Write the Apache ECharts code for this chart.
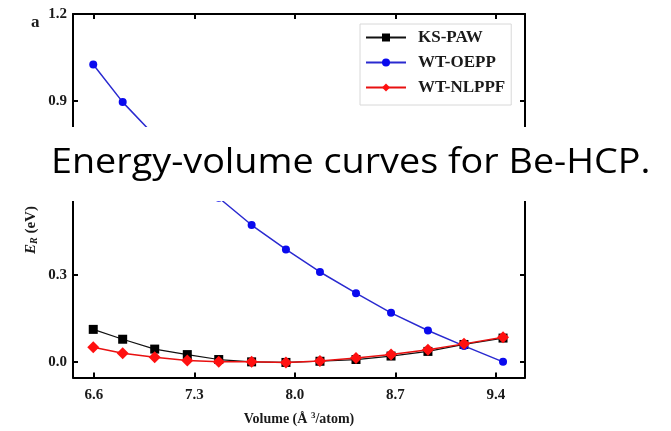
<!DOCTYPE html>
<html>
<head>
<meta charset="utf-8">
<script src="https://cdn.jsdelivr.net/npm/echarts@6/dist/echarts.min.js"></script>
<style>
  html, body { margin: 0; padding: 0; background: #fff; }
  #chart { width: 671px; height: 431px; }
</style>
</head>
<body>
<div id="chart"></div>
<script>
// Atomic volumes (Å^3/atom) of the sampled Be-HCP structures
const volumes = [6.595, 6.80, 7.023, 7.25, 7.469, 7.698, 7.937, 8.174, 8.425, 8.669, 8.926, 9.177, 9.449];

// Relative energies E_R (eV) for each method
const ksPaw   = [0.112, 0.078, 0.044, 0.025, 0.008, 0.000, -0.002, 0.002, 0.008, 0.020, 0.036, 0.060, 0.082];
const wtOepp  = [1.026, 0.896, 0.780, 0.668, 0.566, 0.472, 0.388, 0.310, 0.237, 0.169, 0.108, 0.055, 0.000];
const wtNlppf = [0.050, 0.030, 0.016, 0.005, 0.000, 0.000, -0.002, 0.003, 0.013, 0.025, 0.042, 0.062, 0.085];

const seriesNames = ['KS-PAW', 'WT-OEPP', 'WT-NLPPF'];

// Tick positions
const xTicks = [6.6, 7.3, 8.0, 8.7, 9.4];
const yTicks = [0.0, 0.3, 0.6, 0.9, 1.2];
const yTickLabels = [0.0, 0.3, 0.9, 1.2];

const xRange = [6.454, 9.602];
const yRange = [-0.054, 1.2];

const serif = '"Liberation Serif", "DejaVu Serif", serif';

function pairs(ys) {
  return volumes.map((v, i) => [v, ys[i]]);
}

const chart = echarts.init(document.getElementById('chart'), null, { renderer: 'canvas' });

const frameLine = { show: true, onZero: false, lineStyle: { color: '#000', width: 2 } };
const tickIn = (vals) => ({ show: true, inside: true, length: 5, customValues: vals, lineStyle: { color: '#000', width: 2 } });

chart.setOption({
  animation: false,
  backgroundColor: '#fff',
  grid: { left: 73, right: 146, top: 14, bottom: 46, containLabel: false },
  legend: {
    orient: 'vertical',
    left: 360,
    top: 24,
    padding: [5, 6, 9, 5],
    itemWidth: 40,
    itemHeight: 10,
    itemGap: 8,
    borderColor: '#d8d8d8',
    borderWidth: 1,
    textStyle: { fontFamily: serif, fontWeight: 'bold', fontSize: 17, color: '#1a1a1a', padding: [0, 0, 0, 7] },
    data: seriesNames
  },
  xAxis: [
    {
      type: 'value', min: xRange[0], max: xRange[1], position: 'bottom',
      axisLine: frameLine,
      axisTick: tickIn(xTicks),
      axisLabel: {
        customValues: xTicks, margin: 10,
        fontFamily: serif, fontWeight: 'bold', fontSize: 15, color: '#1a1a1a',
        formatter: (v) => v.toFixed(1)
      },
      splitLine: { show: false },
      name: 'Volume (Å {sup|3}/atom)',
      nameLocation: 'middle',
      nameGap: 34,
      nameTextStyle: {
        fontFamily: serif, fontWeight: 'bold', fontSize: 14, color: '#1a1a1a',
        rich: { sup: { fontFamily: serif, fontWeight: 'bold', fontSize: 9, color: '#1a1a1a', verticalAlign: 'top', padding: [0, 0, 6, 0] } }
      }
    },
    {
      type: 'value', min: xRange[0], max: xRange[1], position: 'top',
      axisLine: frameLine,
      axisTick: tickIn(xTicks),
      axisLabel: { show: false },
      splitLine: { show: false }
    }
  ],
  yAxis: [
    {
      type: 'value', min: yRange[0], max: yRange[1], position: 'left',
      axisLine: frameLine,
      axisTick: tickIn(yTicks),
      axisLabel: {
        customValues: yTickLabels, margin: 6,
        fontFamily: serif, fontWeight: 'bold', fontSize: 15, color: '#1a1a1a',
        formatter: (v) => v.toFixed(1)
      },
      splitLine: { show: false }
    },
    {
      type: 'value', min: yRange[0], max: yRange[1], position: 'right',
      axisLine: frameLine,
      axisTick: tickIn(yTicks),
      axisLabel: { show: false },
      splitLine: { show: false }
    }
  ],
  series: [
    {
      name: seriesNames[0], type: 'line', data: pairs(ksPaw),
      symbol: 'rect', symbolSize: 9,
      itemStyle: { color: '#000' },
      lineStyle: { color: '#111', width: 1.2 },
      z: 2
    },
    {
      name: seriesNames[1], type: 'line', data: pairs(wtOepp),
      symbol: 'circle', symbolSize: 8,
      itemStyle: { color: '#0a0aee' },
      lineStyle: { color: '#2a2ad0', width: 1.5 },
      z: 3
    },
    {
      name: seriesNames[2], type: 'line', data: pairs(wtNlppf),
      symbol: 'diamond', symbolSize: 12,
      itemStyle: { color: '#ff1010' },
      lineStyle: { color: '#e81010', width: 1.5 },
      z: 4
    }
  ],
  graphic: [
    {
      type: 'text', left: 31, top: 14, z: 50,
      style: { text: 'a', font: 'bold 17px ' + serif, fill: '#1a1a1a' }
    },
    {
      type: 'text', x: 31, y: 230, rotation: Math.PI / 2, z: 50,
      style: {
        text: '{it|E}{sub|R} (eV)',
        align: 'center', verticalAlign: 'middle',
        font: 'bold 15px ' + serif, fill: '#1a1a1a',
        rich: {
          it: { font: 'italic bold 15px ' + serif, fill: '#1a1a1a' },
          sub: { font: 'italic bold 10px ' + serif, fill: '#1a1a1a', verticalAlign: 'bottom', padding: [6, 0, 0, 0] }
        }
      }
    },
    {
      type: 'rect', z: 100,
      shape: { x: 0, y: 127, width: 671, height: 74 },
      style: { fill: '#fff' }
    },
    {
      type: 'text', z: 101, x: 51, y: 163, scaleX: 1.11,
      style: {
        text: 'Energy-volume curves for Be-HCP.',
        font: '34px "Open Sans", Lato, sans-serif',
        fill: '#000', verticalAlign: 'middle'
      }
    }
  ]
});
</script>
</body>
</html>
